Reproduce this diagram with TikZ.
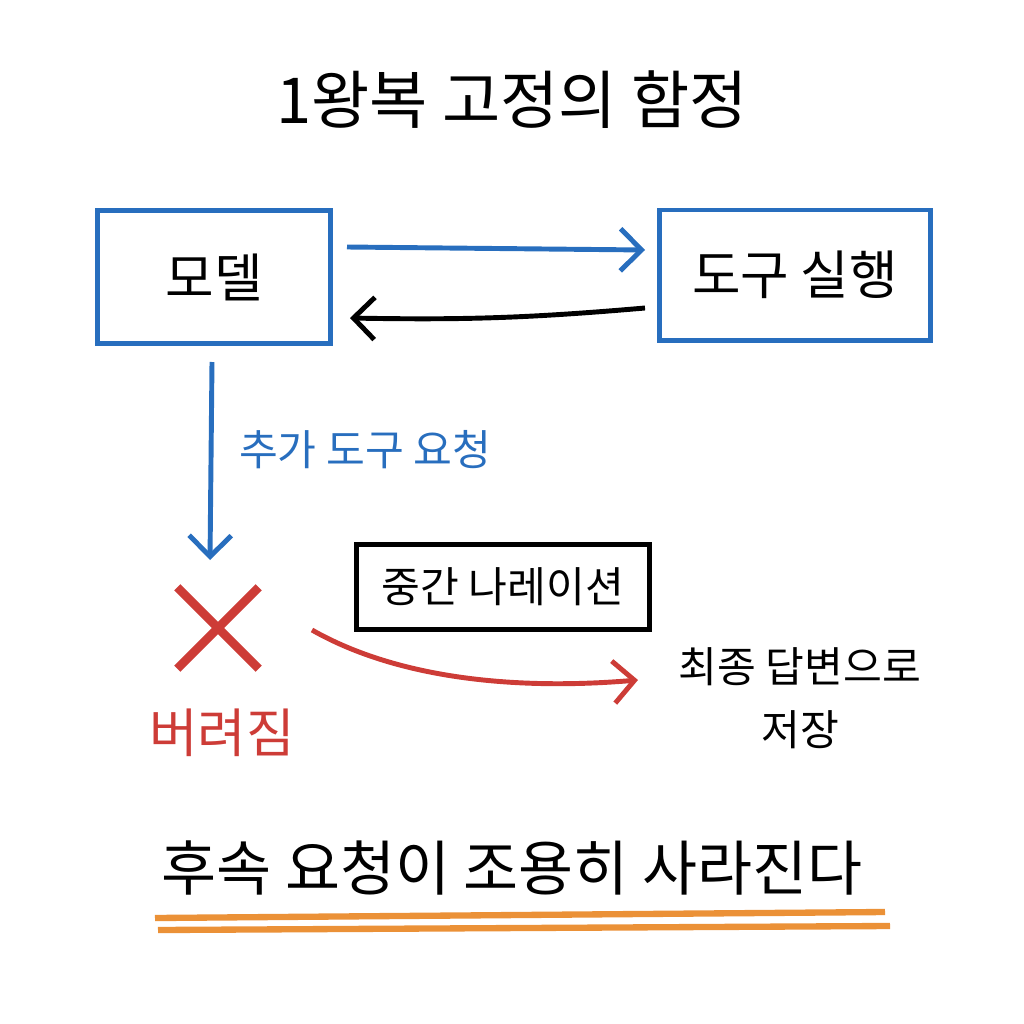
\documentclass[tikz,border=0pt]{standalone}
\usepackage{fontspec}
\setmainfont{Noto Sans CJK KR}
\usetikzlibrary{arrows.meta}
\usetikzlibrary{positioning}
\definecolor{sketchblue}{RGB}{40,110,190}
\definecolor{sketchred}{RGB}{205,60,55}
\definecolor{sketchorange}{RGB}{235,145,55}
\tikzset{
	box/.style={draw, line width=1.4pt, minimum width=2.33cm, minimum height=1.33cm},
	flow/.style={line width=1.4pt, -{Straight Barb[length=6pt,width=12pt]}},
	word/.style={font=\fontsize{12}{14}\selectfont}
}
\begin{document}
\begin{tikzpicture}[x=0.01cm,y=-0.01cm]
	\useasboundingbox (0,0) rectangle (1024,1024);
	\node[font=\fontsize{18}{20}\selectfont] (title) at (512,100) {1왕복 고정의 함정};

	\begin{scope}[every node/.style={box, draw=sketchblue, font=\fontsize{15}{18}\selectfont}]
		\node (model) at (214,277) {모델};
		\node[minimum width=2.7cm, minimum height=1.3cm] (tool) at (795,275) {도구 실행};
	\end{scope}
	\node[box, minimum width=2.93cm, minimum height=0.85cm, word] (narr) at (503,587) {중간 나레이션};

	\coordinate (m1) at (347,247);
	\coordinate (t1) at (645,250);
	\coordinate (t2) at (645,308);
	\coordinate (m2) at (350,318);
	\draw[flow, sketchblue] (m1) -- (t1);
	\draw[flow] (t2) to[bend left=3] (m2);

	\coordinate (down0) at (212,362);
	\coordinate (down1) at (210,560);
	\draw[flow, sketchblue] (down0) -- (down1);
	\node[word, text=sketchblue] (ask) at (365,450) {추가 도구 요청};

	\node[minimum size=0.8cm] (cross) at (218,628) {};
	\draw[sketchred, line width=2.5pt] (cross.north west) -- (cross.south east)
		(cross.north east) -- (cross.south west);
	\node[text=sketchred, font=\fontsize{15}{18}\selectfont] (lost) at (222,733) {버려짐};

	\node[word, align=center] (final) at (800,698) {최종 답변으로\\[4pt]저장};
	\coordinate (r0) at (312,630);
	\coordinate (r1) at (638,680);
	\draw[flow, sketchred] (r0) .. controls (400,680) and (520,690) .. (r1);

	\node[font=\fontsize{17}{20}\selectfont] (tail) at (512,868) {후속 요청이 조용히 사라진다};
	\draw[sketchorange, line width=1.8pt] (155,918) -- (885,912)
		(158,930) -- (890,926);
\end{tikzpicture}
\end{document}
